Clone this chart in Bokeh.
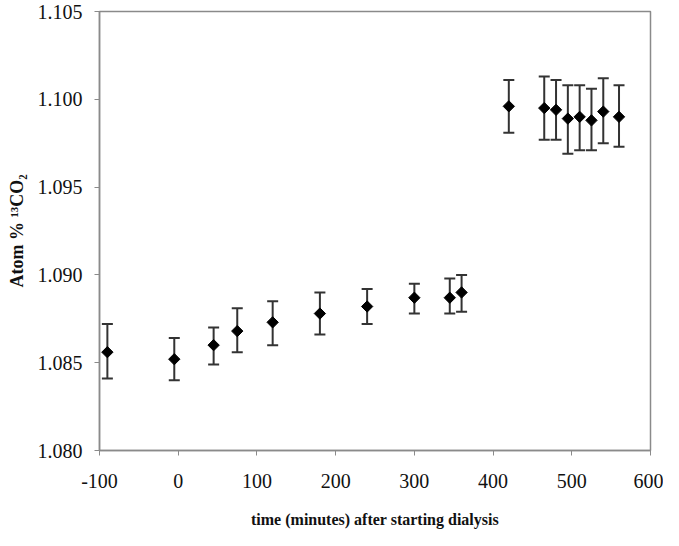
import math
from bokeh.plotting import figure
from bokeh.models import ColumnDataSource, Whisker, TeeHead, FixedTicker, NumeralTickFormatter
from bokeh.embed import file_html
from bokeh.resources import INLINE

# data
time_min = [-90, -5, 45, 75, 120, 180, 240, 300, 345, 360,
            420, 465, 480, 495, 510, 525, 540, 560]
atom_pct = [1.0856, 1.0852, 1.0860, 1.0868, 1.0873, 1.0878, 1.0882, 1.0887, 1.0887, 1.0890,
            1.0996, 1.0995, 1.0994, 1.0989, 1.0990, 1.0988, 1.0993, 1.0990]
err_upper = [1.0872, 1.0864, 1.0870, 1.0881, 1.0885, 1.0890, 1.0892, 1.0895, 1.0898, 1.0900,
             1.1011, 1.1013, 1.1011, 1.1008, 1.1008, 1.1006, 1.1012, 1.1008]
err_lower = [1.0841, 1.0840, 1.0849, 1.0856, 1.0860, 1.0866, 1.0872, 1.0878, 1.0878, 1.0879,
             1.0981, 1.0977, 1.0977, 1.0969, 1.0971, 1.0971, 1.0975, 1.0973]

x_ticks = [-100, 0, 100, 200, 300, 400, 500, 600]
y_ticks = [1.080, 1.085, 1.090, 1.095, 1.100, 1.105]

src = ColumnDataSource(dict(x=time_min, y=atom_pct, up=err_upper, lo=err_lower))

FONT = "Liberation Serif"
AX = "#8a8a8a"

p = figure(width=663, height=530, output_backend="svg", toolbar_location=None,
           x_range=(-100, 600), y_range=(1.080, 1.105),
           min_border_left=99, min_border_top=11, min_border_right=13, min_border_bottom=77)
p.background_fill_color = "white"
p.border_fill_color = "white"
p.outline_line_color = AX
p.outline_line_width = 1.5
p.xgrid.visible = False
p.ygrid.visible = False

p.add_layout(Whisker(source=src, base="x", upper="up", lower="lo",
                     line_color="#333333", line_width=2,
                     upper_head=TeeHead(size=11, line_color="#333333", line_width=2),
                     lower_head=TeeHead(size=11, line_color="#333333", line_width=2)))
p.scatter("x", "y", source=src, marker="square", size=8, angle=math.pi / 4,
          fill_color="black", line_color="black")

for ax in (p.xaxis[0], p.yaxis[0]):
    ax.axis_line_color = AX
    ax.axis_line_width = 1.5
    ax.major_tick_line_color = AX
    ax.major_tick_in = 0
    ax.major_tick_out = 5
    ax.minor_tick_line_color = None
    ax.major_label_text_font = FONT
    ax.major_label_text_font_size = "20px"
    ax.major_label_text_color = "#111111"
    ax.axis_label_text_font = FONT
    ax.axis_label_text_font_style = "bold"
    ax.axis_label_text_color = "#111111"

p.xaxis.axis_label_text_font_size = "16px"
p.yaxis.axis_label_text_font_size = "18px"
p.xaxis.ticker = FixedTicker(ticks=x_ticks)
p.xaxis.formatter = NumeralTickFormatter(format="0")
p.yaxis.ticker = FixedTicker(ticks=y_ticks)
p.yaxis.formatter = NumeralTickFormatter(format="0.000")
p.xaxis.axis_label = "time (minutes) after starting dialysis"
p.yaxis.axis_label = "Atom % \u00b9\u00b3CO\u2082"
p.xaxis.major_label_standoff = 18
p.xaxis.axis_label_standoff = 20
p.yaxis.major_label_standoff = 12
p.yaxis.axis_label_standoff = 8

open("out.html", "w").write(file_html(p, INLINE))
